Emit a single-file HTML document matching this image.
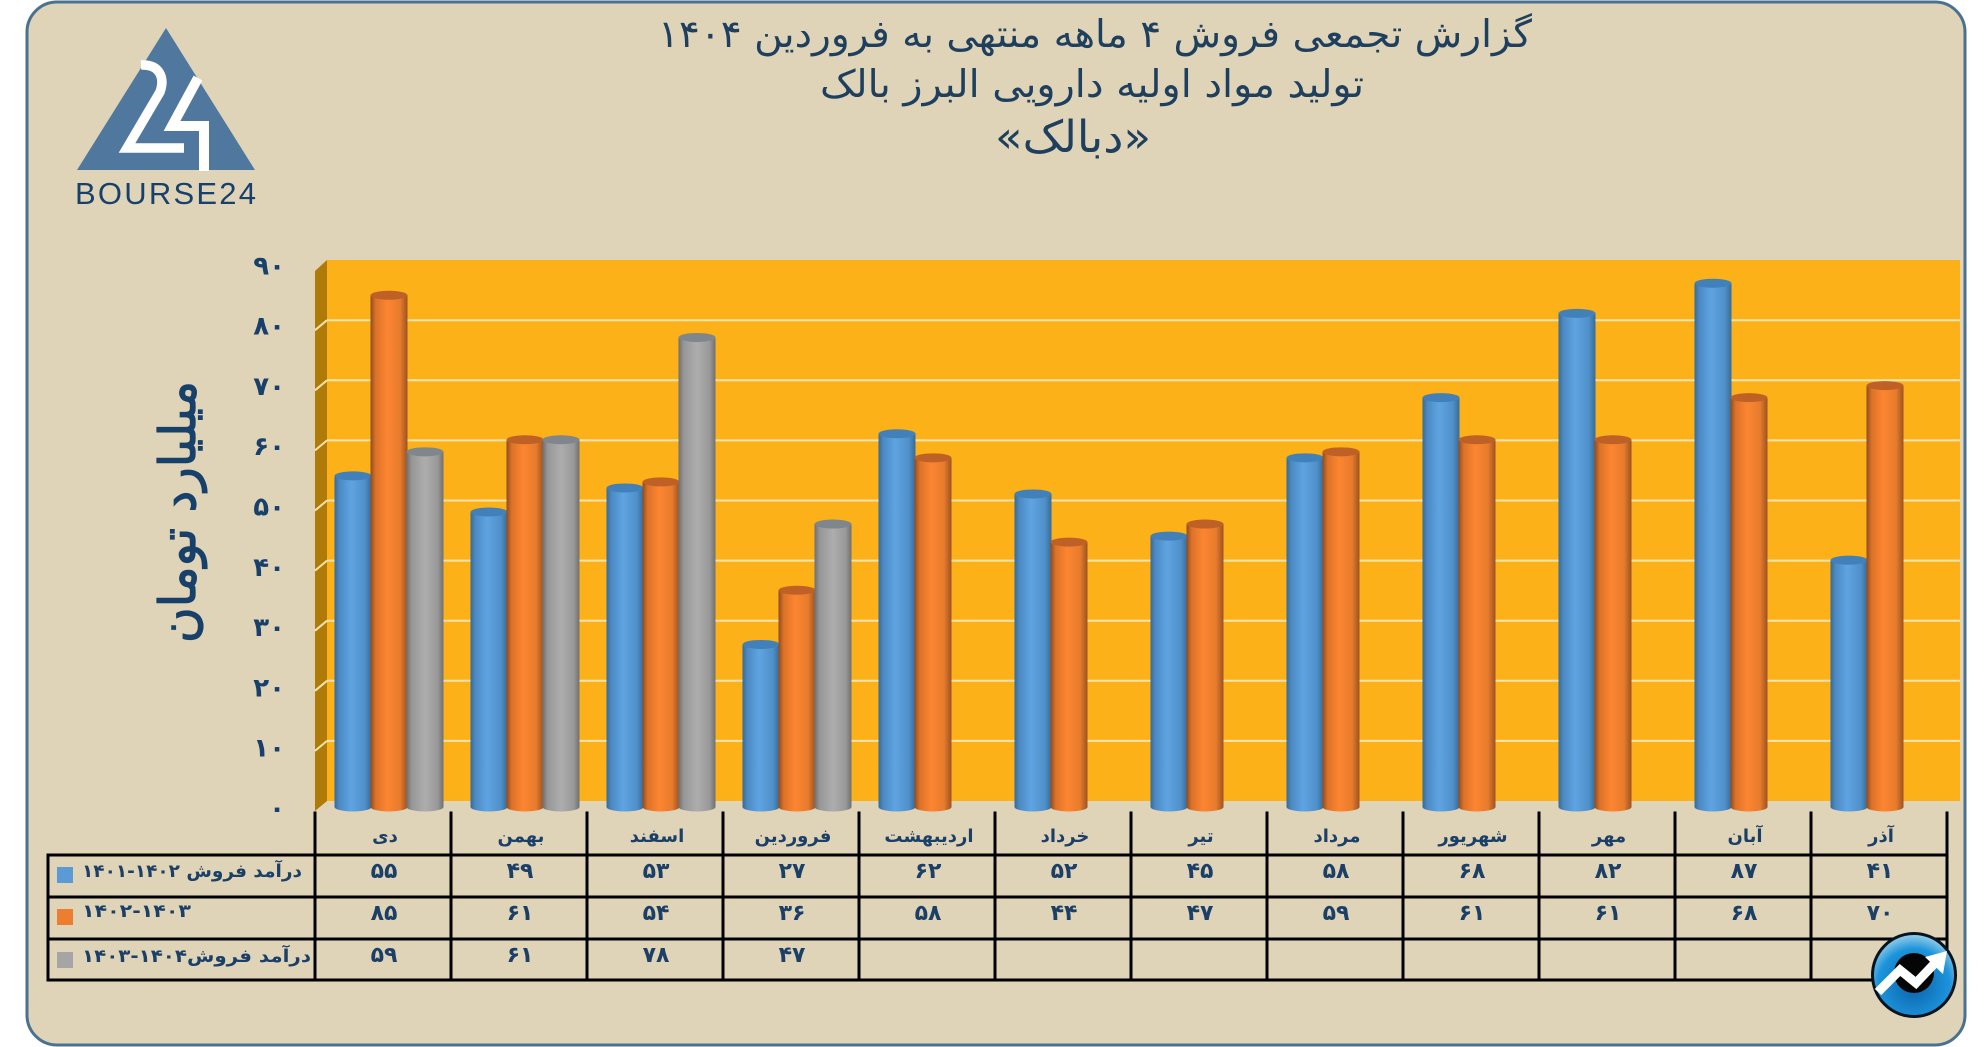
<!DOCTYPE html>
<html lang="fa">
<head>
<meta charset="utf-8">
<title>گزارش تجمعی فروش دبالک</title>
<style>
html,body{margin:0;padding:0;background:#fff;width:1986px;height:1047px;overflow:hidden}
svg{display:block}
text{font-family:"DejaVu Sans","Liberation Sans",sans-serif}
.rtl{direction:rtl;unicode-bidi:embed}
</style>
</head>
<body>
<svg id="chart" xmlns="http://www.w3.org/2000/svg" width="1986" height="1047" viewBox="0 0 1986 1047">
<defs>
<linearGradient id="g0" x1="0" x2="1" y1="0" y2="0"><stop offset="0" stop-color="#376a98"/><stop offset=".14" stop-color="#4c8bc4"/><stop offset=".45" stop-color="#5fa4e2"/><stop offset=".82" stop-color="#4f90ca"/><stop offset="1" stop-color="#386b99"/></linearGradient>
<linearGradient id="g1" x1="0" x2="1" y1="0" y2="0"><stop offset="0" stop-color="#8f4c1e"/><stop offset=".14" stop-color="#dc7229"/><stop offset=".45" stop-color="#fd8531"/><stop offset=".8" stop-color="#e77b2d"/><stop offset="1" stop-color="#9c5321"/></linearGradient>
<linearGradient id="g2" x1="0" x2="1" y1="0" y2="0"><stop offset="0" stop-color="#6f6f6f"/><stop offset=".14" stop-color="#979797"/><stop offset=".5" stop-color="#adadad"/><stop offset=".84" stop-color="#999"/><stop offset="1" stop-color="#707070"/></linearGradient>
<radialGradient id="badgeFill" cx=".5" cy=".62" r=".62"><stop offset="0" stop-color="#0b62a8"/><stop offset=".7" stop-color="#1c94dc"/><stop offset="1" stop-color="#9fd2ea"/></radialGradient>
</defs>

<rect x="27" y="2" width="1938" height="1043" rx="30" ry="30" fill="#dfd4b8" stroke="#4a7290" stroke-width="3"/>

<g fill="#1f3f5f" text-anchor="middle">
<text class="rtl" x="1095" y="47" font-size="38" textLength="874" lengthAdjust="spacingAndGlyphs">گزارش تجمعی فروش ۴ ماهه منتهی به فروردین ۱۴۰۴</text>
<text class="rtl" x="1092" y="97" font-size="38" textLength="544" lengthAdjust="spacingAndGlyphs">تولید مواد اولیه دارویی البرز بالک</text>
<text class="rtl" x="1073" y="152" font-size="44" textLength="156" lengthAdjust="spacingAndGlyphs">«دبالک»</text>
</g>

<g>
<polygon points="166,28 77,170 255,170" fill="#50789f"/>
<path d="M141,65 C160,64 165,78 160,92 L127,148 L184,148" fill="none" stroke="#fff" stroke-width="9.5"/>
<path d="M198,78 L172,126 L204,126 L204,171" fill="none" stroke="#fff" stroke-width="10"/>
<text x="75" y="204" font-size="31" textLength="181" lengthAdjust="spacing" fill="#17406a" style="font-family:'Liberation Sans',sans-serif">BOURSE24</text>
</g>

<text class="rtl" transform="translate(195,512) rotate(-90)" text-anchor="middle" font-size="50" fill="#17406a" stroke="#17406a" stroke-width="1.2" textLength="262" lengthAdjust="spacingAndGlyphs">میلیارد تومان</text>

<g id="plot">
<rect x="327" y="260" width="1633" height="541" fill="#fbb117"/>
<polygon points="315,271 327,260 327,801 315,811" fill="#ae7a08"/>
</g>
<g id="yticks"></g>
<g id="bars"></g>
<g id="table"></g>

<g>
<circle cx="1914" cy="975" r="41.5" fill="url(#badgeFill)" stroke="#06141f" stroke-width="3"/>
<circle cx="1914" cy="973" r="20" fill="#050505"/>
<polyline points="1878,992 1900,970 1916,983 1936,962" fill="none" stroke="#fff" stroke-width="9"/>
<polygon points="1947,951 1943,974 1925,957" fill="#fff"/>
</g>

<script>
var categories = ['دی','بهمن','اسفند','فروردین','اردیبهشت','خرداد','تیر','مرداد','شهریور','مهر','آبان','آذر'];
var sales1401 = [55,49,53,27,62,52,45,58,68,82,87,41];
var sales1402 = [85,61,54,36,58,44,47,59,61,61,68,70];
var sales1403 = [59,61,78,47,null,null,null,null,null,null,null,null];
var yTicks = [0,10,20,30,40,50,60,70,80,90];
var legendLabels = ['درآمد فروش \u2066۱۴۰۱-۱۴۰۲\u2069','\u2066۱۴۰۲-۱۴۰۳\u2069','درآمد فروش\u2066۱۴۰۳-۱۴۰۴\u2069'];

var NS = 'http://www.w3.org/2000/svg';
var series = [sales1401, sales1402, sales1403];
var barTopColors = ['#4180b8','#bf6127','#7f878c'];
var swatchColors = ['#5b9bd5','#ed7d31','#a5a5a5'];
var legendWidths = [220,109,229];
var legendCenters = [192,136.5,196.5];
var legendY = [877,917,962];
var swatchY = [867,909,952];
var rowY = [878,920,962];

function toFa(n){return String(n).replace(/\d/g,function(d){return '۰۱۲۳۴۵۶۷۸۹'[+d];});}
function wallY(v){return 801 - v*6.01;}
function barY(v){return 807 - v*6.02;}
function tickLabelY(v){return 817 - v*6.03;}
function colX(i){return 315 + i*136;}
function barCenter(i,s){return colX(i) + 74 + (s-1)*36;}
function mk(tag,parent){var e=document.createElementNS(NS,tag);parent.appendChild(e);return e;}

var plot=document.getElementById('plot');
var yG=document.getElementById('yticks');
yTicks.forEach(function(v){
  if(v!==0&&v!==90){
    var line=mk('line',plot);
    
    
    line.setAttribute('x1',327);line.setAttribute('x2',1960);
    line.setAttribute('y1',wallY(v));line.setAttribute('y2',wallY(v));
    line.setAttribute('stroke','#fbe3b0');line.setAttribute('stroke-width',2);
    var sl=mk('line',plot);
    
    
    sl.setAttribute('x1',315);sl.setAttribute('x2',327);
    sl.setAttribute('y1',wallY(v)+10);sl.setAttribute('y2',wallY(v));
    sl.setAttribute('stroke','#fbe3b0');sl.setAttribute('stroke-width',2);
  }
  var t=mk('text',yG);
  
  
  t.setAttribute('x',285);t.setAttribute('y',tickLabelY(v));
  t.setAttribute('text-anchor','end');
  t.setAttribute('font-size',26);t.setAttribute('font-weight','bold');t.setAttribute('fill','#17406a');
  t.textContent=toFa(v);
});

var barsG=document.getElementById('bars');
var W=37,RY=4.5;
categories.forEach(function(c,i){
  series.forEach(function(vals,s){
    var v=vals[i];
    if(v===null||v===undefined)return;
    var cx=barCenter(i,s),x0=cx-W/2,x1=cx+W/2,top=barY(v),base=barY(0);
    var body=mk('path',barsG);
    
    
    body.setAttribute('d','M'+x0+','+top+' L'+x0+','+base+' A'+(W/2)+','+RY+' 0 0 0 '+x1+','+base+' L'+x1+','+top+' Z');
    body.setAttribute('fill','url(#g'+s+')');
    var cap=mk('ellipse',barsG);
    
    
    cap.setAttribute('cx',cx);cap.setAttribute('cy',top);
    cap.setAttribute('rx',W/2);cap.setAttribute('ry',RY);
    cap.setAttribute('fill',barTopColors[s]);
  });
});

var tb=document.getElementById('table');
function tline(x1,y1,x2,y2,name){
  var l=mk('line',tb);
  
  
  l.setAttribute('x1',x1);l.setAttribute('y1',y1);l.setAttribute('x2',x2);l.setAttribute('y2',y2);
  l.setAttribute('stroke','#000');l.setAttribute('stroke-width',3);
  l.setAttribute('stroke-linecap','square');
}
for(var k=0;k<=categories.length;k++){tline(colX(k),813,colX(k),980,'table-column-line');}
[855,897,939,980].forEach(function(y){tline(48,y,colX(categories.length),y,'table-row-line');});
tline(48,855,48,980,'table-left-line');

categories.forEach(function(c,i){
  var t=mk('text',tb);
  
  
  t.setAttribute('class','rtl');
  t.setAttribute('x',colX(i)+70);t.setAttribute('y',842);
  t.setAttribute('text-anchor','middle');t.setAttribute('font-size',18);t.setAttribute('font-weight','bold');t.setAttribute('fill','#1b3f66');
  t.textContent=c;
  series.forEach(function(vals,s){
    var v=vals[i];
    if(v===null||v===undefined)return;
    var n=mk('text',tb);
    
    
    n.setAttribute('x',colX(i)+69);n.setAttribute('y',rowY[s]);
    n.setAttribute('text-anchor','middle');n.setAttribute('font-size',22);n.setAttribute('font-weight','bold');n.setAttribute('fill','#1b3f66');
    n.textContent=toFa(v);
  });
});
legendLabels.forEach(function(lbl,s){
  var r=mk('rect',tb);
  
  
  r.setAttribute('x',57);r.setAttribute('y',swatchY[s]);r.setAttribute('width',16);r.setAttribute('height',16);
  r.setAttribute('fill',swatchColors[s]);
  var t=mk('text',tb);
  
  
  t.setAttribute('class','rtl');
  t.setAttribute('x',legendCenters[s]);t.setAttribute('y',legendY[s]);
  t.setAttribute('text-anchor','middle');t.setAttribute('font-size',18);t.setAttribute('font-weight','bold');t.setAttribute('fill','#1b3f66');
  t.setAttribute('textLength',legendWidths[s]);t.setAttribute('lengthAdjust','spacingAndGlyphs');
  t.textContent=lbl;
});
</script>
</svg>
</body>
</html>
